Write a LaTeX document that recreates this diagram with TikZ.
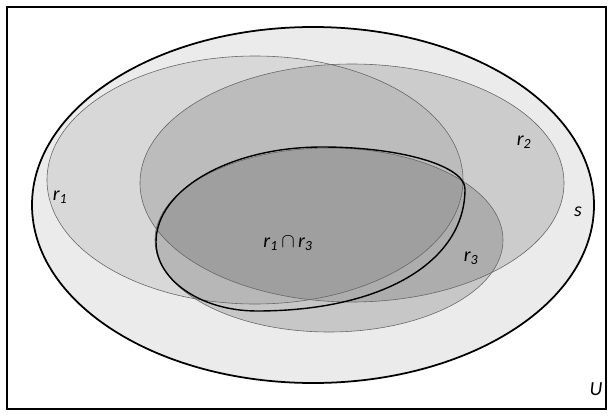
\documentclass[tikz,border=0pt]{standalone}
\usepackage{fontspec}
\setmainfont{Carlito}

\begin{document}
\begin{tikzpicture}[x=0.03cm,y=-0.03cm,
  shade/.style={fill=black,fill opacity=#1},
  rim/.style={draw=black!60,line width=0.5pt},
  lbl/.style={font=\fontsize{17}{20}\selectfont\itshape,inner sep=0pt}]
  \useasboundingbox (0,0) rectangle (610,416);
  \draw[line width=1pt] (7,7) rectangle (606,409);

  % set s
  \draw[fill=black!8,line width=1.5pt] (313,205) ellipse (281 and 178);

  % shaded sets
  \fill[shade=0.08] (255,180) ellipse (208 and 124);
  \fill[shade=0.13] (352,183) ellipse (212 and 119);
  \fill[shade=0.15] (329,240) ellipse (174 and 92);
  \draw[rim] (255,180) ellipse (208 and 124);
  \draw[rim] (352,183) ellipse (212 and 119);
  \draw[rim] (329,240) ellipse (174 and 92);

  % r1 cap r3
  \draw[line width=1.2pt] (156,242)
    .. controls (156,189.5) and (230.3,147) .. (322,147)
    .. controls (401,147) and (465,165.8) .. (465,189)
    .. controls (465,262.2) and (381.8,311) .. (257,311)
    .. controls (201.2,311) and (156,280.1) .. cycle;

  \node[lbl] (lr1) at (60,197) {r\textsubscript{1}};
  \node[lbl] (lr2) at (524,142) {r\textsubscript{2}};
  \node[lbl] (lr3) at (471,258) {r\textsubscript{3}};
  \node[lbl] (ls) at (578,212) {s};
  \node[lbl] (lcap) at (288,243) {r\textsubscript{1}\,$\cap$\,r\textsubscript{3}};
  \node[lbl] (lu) at (596,389) {U};
\end{tikzpicture}
\end{document}
